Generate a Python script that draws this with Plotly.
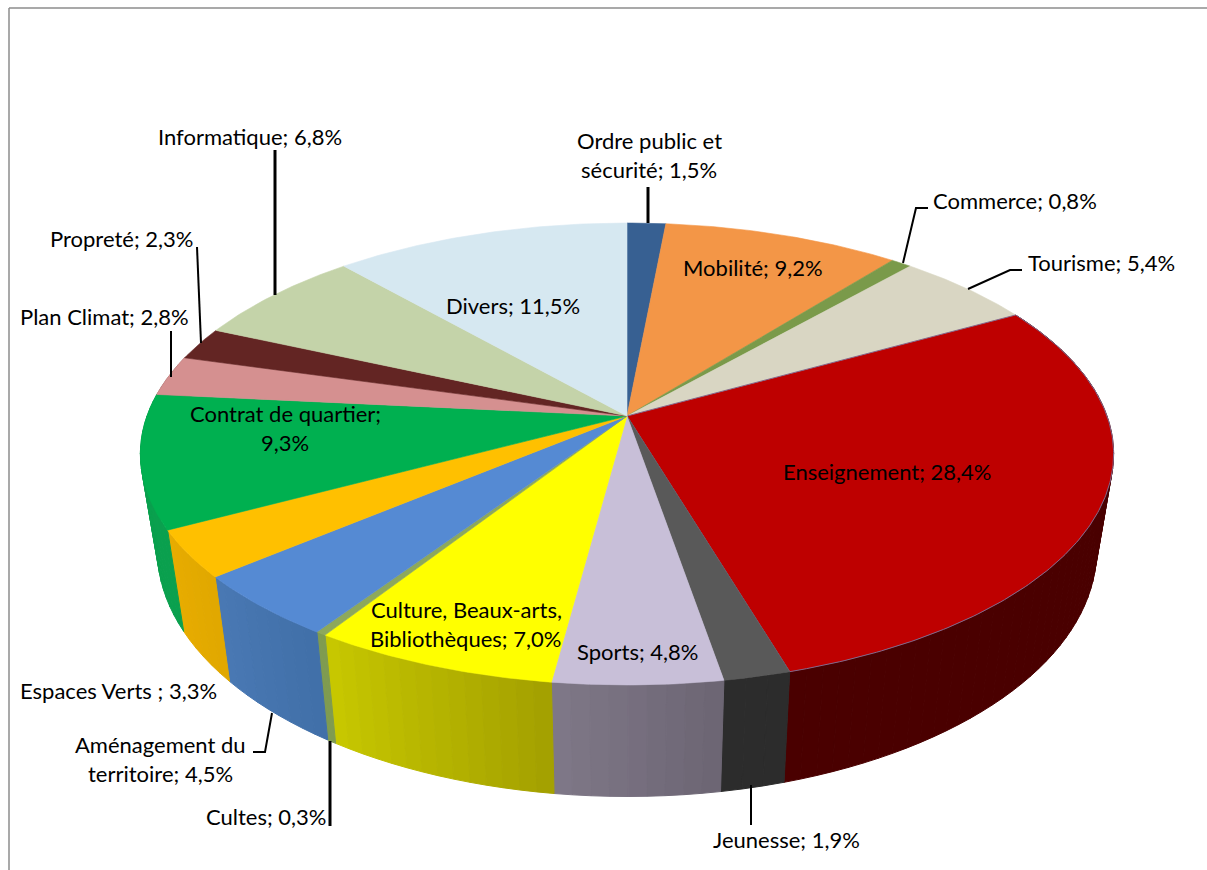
import numpy as np
import plotly.graph_objects as go

# ---------- data ----------
categories = ["Ordre public et sécurité", "Mobilité", "Commerce", "Tourisme", "Enseignement",
              "Jeunesse", "Sports", "Culture, Beaux-arts, Bibliothèques", "Cultes",
              "Aménagement du territoire", "Espaces Verts", "Contrat de quartier",
              "Plan Climat", "Propreté", "Informatique", "Divers"]
values = [1.5, 9.2, 0.8, 5.4, 28.4, 1.9, 4.8, 7.0, 0.3, 4.5, 3.3, 9.3, 2.8, 2.3, 6.8, 11.5]

# ---------- styles ----------
top_colors = ["#376092", "#F39647", "#7A9A4A", "#D9D6C3", "#BE0000", "#595959", "#C8BFD8", "#FFFF00",
              "#8DA85C", "#558AD3", "#FFC000", "#00B050", "#D59090", "#632523", "#C4D3A9", "#D6E8F1"]
side_left = ["#2A4A70", "#C07030", "#648040", "#ACA896", "#4A0000", "#2C2C2C", "#7F7888", "#C8C800",
             "#7F9B50", "#4A78B4", "#E8AC00", "#0AA04E", "#A87472", "#4A1B1A", "#98A878", "#A8B8C0"]
side_right = ["#2A4A70", "#C07030", "#648040", "#ACA896", "#4A0000", "#2C2C2C", "#6C6573", "#A3A000",
              "#7F9B50", "#4070A8", "#E0A800", "#0AA04E", "#A87472", "#4A1B1A", "#98A878", "#A8B8C0"]

# Perspective model of the tilted disc (plot pixels)
CX, CY = 627.0, 416.0
A, B, PERSP = 480.0, 224.7, 0.1645
SIDE_X, SIDE_H0, SIDE_HK = 0.965, 66.0, 0.0665


def rim(theta):
    u, v = np.sin(theta), np.cos(theta)
    w = 1 + PERSP * v
    return CX + A * u / w, CY - B * v / w


def lower(x, y):
    return CX + SIDE_X * (x - CX), y + SIDE_H0 + SIDE_HK * y


def mix(c1, c2, t):
    a = [int(c1[i:i + 2], 16) for i in (1, 3, 5)]
    b = [int(c2[i:i + 2], 16) for i in (1, 3, 5)]
    return "#%02x%02x%02x" % tuple(round(p + (q - p) * t) for p, q in zip(a, b))


vals = np.array(values, dtype=float)
edges = np.concatenate([[0], np.cumsum(vals)]) / vals.sum() * 2 * np.pi

fig = go.Figure()


def poly(xs, ys, color, lw=0.0, lc=None):
    fig.add_trace(go.Scatter(x=xs, y=ys, mode="lines", fill="toself", fillcolor=color,
                             line=dict(color=lc or color, width=lw), hoverinfo="skip", showlegend=False))


# side walls: overlapping quads from the rim down to the lower rim, screen left to right
for i in range(len(vals)):
    t0, t1 = edges[i], edges[i + 1]
    if np.cos(t1) > 0.15 and np.cos(t0) > 0.15:
        continue
    steps = max(3, int(vals[i] * 2.0))
    cuts = np.linspace(t1, t0, steps + 1)
    for s in range(steps):
        th = np.linspace(cuts[s], cuts[s + 1], 5)
        x, y = rim(th)
        lx, ly = lower(x, y)
        poly(np.r_[x, lx[::-1], x[0]], np.r_[y, ly[::-1], y[0]],
             mix(side_left[i], side_right[i], (s + 0.5) / steps), lw=1.0)

# top faces
for i in range(len(vals)):
    th = np.linspace(edges[i], edges[i + 1], max(6, int(vals[i] * 6)))
    x, y = rim(th)
    is_red = categories[i] == "Enseignement"
    poly(np.r_[CX, x, CX], np.r_[CY, y, CY], top_colors[i],
         lw=1.0 if is_red else 0.6, lc="#84688C" if is_red else None)

# leader lines (x list, y list, width)
leaders = [
    ([648, 648], [187, 223], 3),
    ([903, 916, 928], [263, 208, 208], 2),
    ([968, 1010, 1022], [289, 270, 270], 2),
    ([275, 275], [150, 295], 3),
    ([197, 201], [247, 343], 2),
    ([171, 171], [331, 377], 2),
    ([272, 265, 253], [713, 752, 752], 2),
    ([330, 330], [741, 826], 3),
    ([751, 751], [785, 825], 2),
]
for lx, ly, lw in leaders:
    fig.add_trace(go.Scatter(x=lx, y=ly, mode="lines", line=dict(color="#000000", width=lw),
                             hoverinfo="skip", showlegend=False))

# labels: text line, centre x, centre y
labels = [
    ("Ordre public et", 649, 140), ("sécurité; 1,5%", 649, 169),
    ("Commerce; 0,8%", 1015, 200), ("Tourisme; 5,4%", 1101, 262),
    ("Mobilité; 9,2%", 753, 267), ("Divers; 11,5%", 513, 305),
    ("Informatique; 6,8%", 250, 136), ("Propreté; 2,3%", 121, 238),
    ("Plan Climat; 2,8%", 104, 316), ("Contrat de quartier;", 285, 413),
    ("9,3%", 285, 442), ("Enseignement; 28,4%", 887, 471),
    ("Culture, Beaux-arts,", 466, 609), ("Bibliothèques; 7,0%", 465, 638),
    ("Sports; 4,8%", 637, 651), ("Espaces Verts ; 3,3%", 118, 690),
    ("Aménagement du", 160, 744), ("territoire; 4,5%", 160, 773),
    ("Cultes; 0,3%", 266, 816), ("Jeunesse; 1,9%", 786, 839),
]
annotations = [dict(x=x, y=y, text=t, showarrow=False, xanchor="center", yanchor="middle",
                    font=dict(family="Lato", size=22, color="#000000")) for t, x, y in labels]

frame = [dict(type="line", x0=9, x1=9, y0=8, y1=870, line=dict(color="#8C8C8C", width=1.5)),
         dict(type="line", x0=9, x1=1207, y0=8, y1=8, line=dict(color="#8C8C8C", width=1.5))]

fig.update_layout(
    width=1207, height=870, margin=dict(l=0, r=0, t=0, b=0),
    paper_bgcolor="#FFFFFF", plot_bgcolor="#FFFFFF", showlegend=False,
    xaxis=dict(range=[0, 1207], visible=False, fixedrange=True),
    yaxis=dict(range=[870, 0], visible=False, fixedrange=True),
    annotations=annotations, shapes=frame,
)
fig.write_html("out.html", config={"displayModeBar": False},
               post_script="document.body.style.margin='0';document.body.style.overflow='hidden';")
